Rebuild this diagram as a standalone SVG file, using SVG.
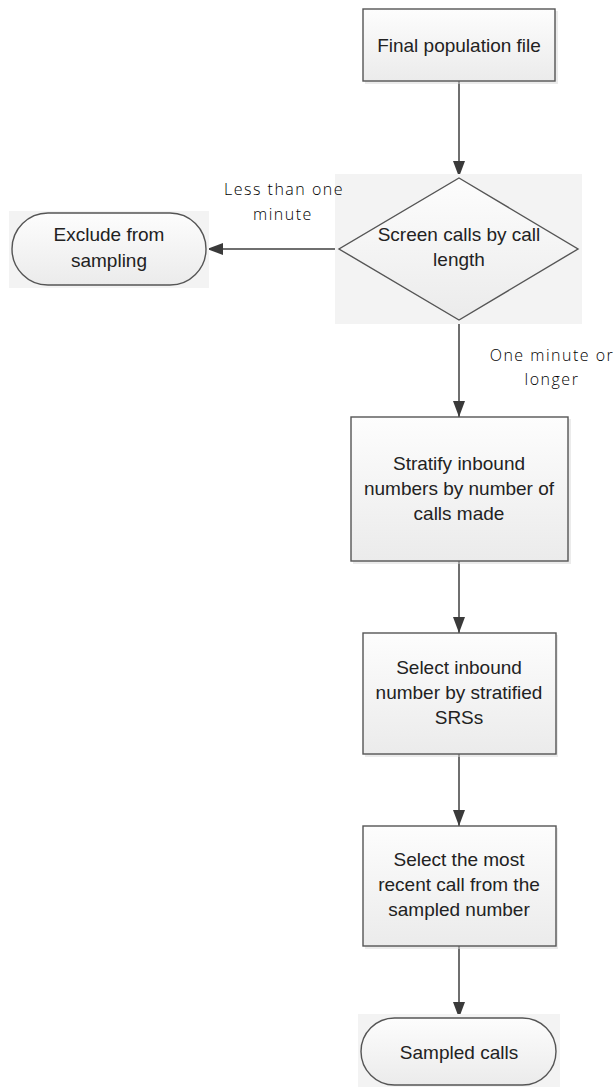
<svg xmlns="http://www.w3.org/2000/svg" width="616" height="1087" viewBox="0 0 616 1087">
<defs>
<linearGradient id="g" x1="0" y1="0" x2="0" y2="1">
<stop offset="0" stop-color="#fdfdfd"/>
<stop offset="1" stop-color="#ebebeb"/>
</linearGradient>
<marker id="ah" viewBox="0 0 16 12" refX="16" refY="6" markerWidth="16" markerHeight="12" markerUnits="userSpaceOnUse" orient="auto">
<path d="M0,0 L16,6 L0,12 Z" fill="#3a3a3a"/>
</marker>
</defs>
<style>
.shape{fill:url(#g);stroke:#555;stroke-width:1.4}
.sh{fill:#d8d8d8;opacity:0.5}
.bg{fill:#f3f3f3}
.t{font-family:"Liberation Sans",Arial,sans-serif;font-size:19px;fill:#222;text-anchor:middle}
.lbl{font-family:"Open Sans","Liberation Sans",sans-serif;font-weight:300;font-size:16px;fill:#000;text-anchor:middle;letter-spacing:1.5px}
.c{fill:none;stroke:#3f3f3f;stroke-width:1.5;marker-end:url(#ah)}
</style>
<rect width="616" height="1087" fill="#fff"/>

<g id="connectors">
<line class="c" x1="459" y1="81" x2="459" y2="177"/>
<line class="c" x1="339" y1="249" x2="207" y2="249"/>
<line class="c" x1="459" y1="320" x2="459" y2="417"/>
<line class="c" x1="459" y1="561" x2="459" y2="633"/>
<line class="c" x1="459" y1="754" x2="459" y2="826"/>
<line class="c" x1="459" y1="946" x2="459" y2="1018"/>
</g>

<g id="n-final">
<rect class="sh" x="365" y="11" width="193" height="73"/>
<rect class="shape" x="363" y="9" width="192" height="72"/>
<text class="t" x="459" y="52">Final population file</text>
</g>

<g id="n-screen">
<rect class="bg" x="335" y="174" width="247" height="150"/>
<polygon class="shape" points="459,178 578,249 459,320 339,249"/>
<text class="t" x="459" y="241">Screen calls by call</text>
<text class="t" x="459" y="266">length</text>
</g>

<g id="n-exclude">
<rect class="bg" x="9" y="211" width="200" height="77"/>
<rect class="shape" x="12" y="213" width="194" height="72" rx="36" ry="36"/>
<text class="t" x="109" y="241">Exclude from</text>
<text class="t" x="109" y="267">sampling</text>
</g>

<g id="n-stratify">
<rect class="sh" x="353" y="419" width="218" height="145"/>
<rect class="shape" x="351" y="417" width="217" height="144"/>
<text class="t" x="459" y="470">Stratify inbound</text>
<text class="t" x="459" y="495">numbers by number of</text>
<text class="t" x="459" y="520">calls made</text>
</g>

<g id="n-select">
<rect class="sh" x="365" y="635" width="193" height="122"/>
<rect class="shape" x="363" y="633" width="193" height="121"/>
<text class="t" x="459" y="674">Select inbound</text>
<text class="t" x="459" y="699">number by stratified</text>
<text class="t" x="459" y="724">SRSs</text>
</g>

<g id="n-recent">
<rect class="sh" x="365" y="828" width="193" height="121"/>
<rect class="shape" x="363" y="826" width="193" height="120"/>
<text class="t" x="459" y="866">Select the most</text>
<text class="t" x="459" y="891">recent call from the</text>
<text class="t" x="459" y="916">sampled number</text>
</g>

<g id="n-sampled">
<rect class="bg" x="358" y="1014" width="202" height="73"/>
<rect class="shape" x="361" y="1018" width="195" height="67" rx="33.5" ry="33.5"/>
<text class="t" x="459" y="1059">Sampled calls</text>
</g>

<g id="label-less">
<text class="lbl" x="284" y="195">Less than one</text>
<text class="lbl" x="283" y="220">minute</text>
</g>
<g id="label-more">
<text class="lbl" x="552" y="361">One minute or</text>
<text class="lbl" x="552" y="385">longer</text>
</g>
</svg>
